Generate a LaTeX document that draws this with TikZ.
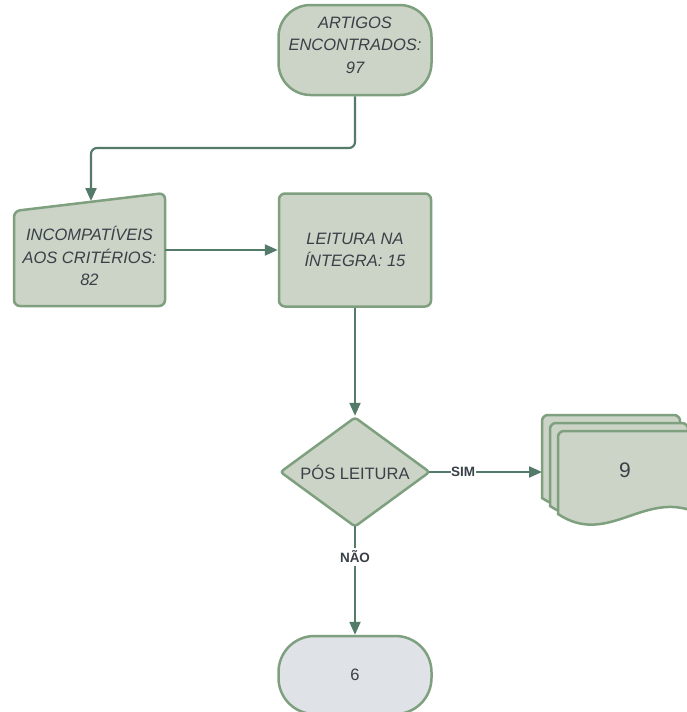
\documentclass[tikz,border=0pt]{standalone}
\usepackage{fontspec}
\setmainfont{Liberation Sans}
\usetikzlibrary{shapes.geometric,arrows.meta}
\definecolor{boxfill}{RGB}{204,212,199}
\definecolor{boxline}{RGB}{126,160,126}
\definecolor{arrowc}{RGB}{84,122,106}
\definecolor{txt}{RGB}{58,64,72}
\definecolor{endfill}{RGB}{223,226,231}
\tikzset{
  shp/.style={draw=boxline, fill=boxfill, line width=2.5pt},
  lbl/.style={text=txt, align=center, inner sep=0pt, font=\fontsize{16.5}{22.5}\selectfont\itshape},
  term/.style={shp, lbl, rounded corners=32pt, minimum width=153pt, minimum height=90pt},
  proc/.style={shp, lbl, rounded corners=6pt, minimum width=152pt, minimum height=113pt},
  conn/.style={draw=arrowc, line width=2.2pt, -{Triangle[length=13pt,width=11pt]}},
  edgelbl/.style={fill=white, text=txt, inner xsep=0.5pt, inner ysep=3pt, font=\fontsize{13.5}{15}\selectfont\bfseries},
  page/.style={shp, rounded corners=6pt}
}
\begin{document}
\begin{tikzpicture}[x=1pt,y=-1pt]
\useasboundingbox (0,0) rectangle (687,712);
\clip (0,0) rectangle (687,712);
\fill[white] (0,0) rectangle (687,712);

% top terminator
\node[term] (top) at (355,50) {};
\node[lbl] (toptext) at (355,45) {ARTIGOS\\ENCONTRADOS:\\97};

% manual input
\draw[shp, rounded corners=6pt] (14,306) -- (14,211) -- (165,193) -- (165,306) -- cycle;
\node[lbl, minimum width=151pt, minimum height=113pt] (inc) at (89.5,256) {INCOMPATÍVEIS\\AOS CRITÉRIOS:\\82};
\coordinate (incout) at (165,250);
\coordinate (inctop) at (91,201);

% process
\node[proc] (proc) at (355,250) {LEITURA NA\\ÍNTEGRA: 15};

% decision
\node[shp, diamond, rounded corners=3pt, minimum width=150pt, minimum height=110pt, inner sep=0pt] (dec) at (355,472) {};
\node[lbl, font=\fontsize{16.5}{20}\selectfont] (dectext) at (dec.center) {PÓS LEITURA};

% multi-document
\foreach \d in {0,8,16} {
  \draw[page] (542+\d,498+\d) -- (542+\d,415+\d) -- (680+\d,415+\d) -- (680+\d,496+\d)
    [sharp corners] .. controls (625+\d,478+\d) and (590+\d,530+\d) .. (542+\d,498+\d) -- cycle;
}
\node[lbl, font=\fontsize{21}{24}\selectfont] (doc) at (625,470) {9};
\coordinate (docin) at (542,472);

% end terminator
\node[term, fill=endfill, rounded corners=36pt, minimum height=78pt, font=\fontsize{16.5}{20}\selectfont] (end) at (355,675) {6};

% connectors
\draw[conn, rounded corners=6pt] (top.south) -- (355,148) -| (inctop);
\draw[conn] (incout) -- (proc.west |- incout);
\draw[conn] (proc.south) -- (dec.north);
\draw[conn] ([xshift=-2pt]dec.east) -- node[edgelbl, pos=0.3] {SIM} (docin);
\draw[conn] ([yshift=2pt]dec.south) -- node[edgelbl, pos=0.28] {NÃO} (end.north);
\end{tikzpicture}
\end{document}
